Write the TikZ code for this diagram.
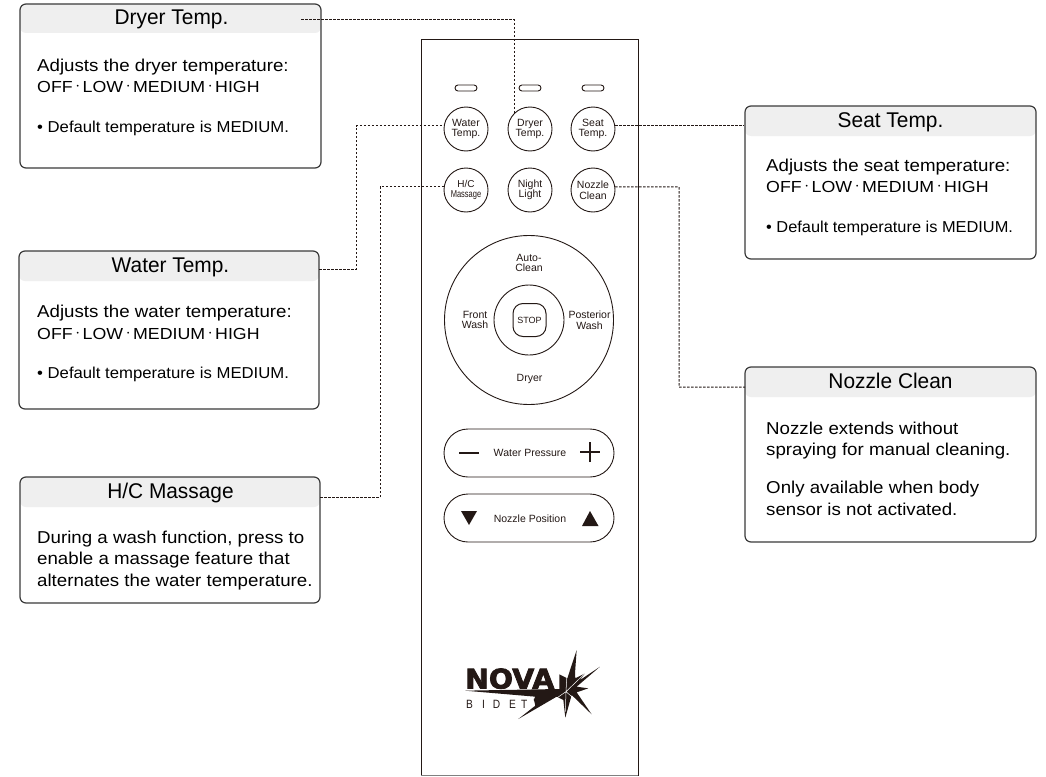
\documentclass[tikz,border=0pt]{standalone}
\usepackage{fontspec}
\setmainfont{Liberation Sans}
\newfontfamily\logofont[FakeBold=3,FakeStretch=1.05]{DejaVu Sans}
\newfontfamily\bidetfont[FakeStretch=0.85]{Liberation Sans}
\newfontfamily\titlefont[FakeStretch=0.98]{Liberation Sans}
\newfontfamily\bodyfont[FakeStretch=1.087]{Liberation Sans}
\newfontfamily\capsfont[FakeStretch=1.11]{Liberation Sans}
\newfontfamily\notefont[FakeStretch=1.057]{Liberation Sans}
\newfontfamily\seatnotefont[FakeStretch=1.036]{Liberation Sans}
\definecolor{ink}{HTML}{231815}
\definecolor{boxline}{HTML}{3A3A3A}
\definecolor{headfill}{HTML}{EFEFEF}
\newcommand{\fs}[1]{\fontsize{#1}{#1}\selectfont}
\newcommand{\lvsep}{\kern2.6pt\raisebox{2pt}{$\cdot$}\kern2.6pt}
\newcommand{\levels}{OFF\lvsep LOW\lvsep MEDIUM\lvsep HIGH}
\tikzset{
  x=1pt,y=-1pt,
  infobox/.style n args={3}{draw=boxline,line width=1.2pt,rounded corners=6pt,fill=white,inner sep=0pt,
    minimum width=#1,minimum height=#2,
    path picture={\fill[headfill] (path picture bounding box.north west) rectangle ([yshift=-#3]path picture bounding box.north east);}},
  titletext/.style={font=\titlefont\fs{21.3},text=black,inner sep=0pt,anchor=base},
  bodytext/.style={font=\bodyfont\fs{17.2},text=black,inner sep=0pt,anchor=base west},
  capstext/.style={font=\capsfont\fs{16},text=black,inner sep=0pt,anchor=base west},
  notetext/.style={font=\notefont\fs{15.8},text=black,inner sep=0pt,anchor=base west},
  leader/.style={draw=ink,line width=1pt,dash pattern=on 2.5pt off 1.5pt},
  roundbtn/.style={draw=ink,line width=0.9pt,circle,minimum size=44pt,inner sep=0pt,align=center,font=\fs{10.5}\linespread{1}\selectfont,text=ink},
  led/.style={draw=ink,line width=0.9pt,rounded corners=3pt,minimum width=22pt,minimum height=6pt,inner sep=0pt},
  pillbtn/.style={draw=ink,line width=0.9pt,rounded corners=24pt,minimum width=170pt,minimum height=48pt,inner sep=0pt},
  paneltext/.style={font=\fs{10.5},text=ink,inner sep=0pt,align=center},
}
\newcommand{\two}[2]{\baselineskip=11pt #1\\#2}
\begin{document}
\begin{tikzpicture}
\useasboundingbox (0,0) rectangle (1046,776);
% remote body
\node[draw=ink,line width=1pt,minimum width=217pt,minimum height=760pt,inner sep=0pt] (remote) at (529.5,420) {};
\fill[white] (415,775.5) rectangle (645,800);
\draw[gray,line width=0.6pt] (421,775.5) -- (638,775.5);
% indicator lights
\node[led] (led1) at (466,88) {};
\node[led] (led2) at (530,88) {};
\node[led] (led3) at (593,88) {};
% top buttons
\node[roundbtn] (waterbtn) at (466,129) {\two{Water}{Temp.}};
\node[roundbtn] (dryerbtn) at (530,129) {\two{Dryer}{Temp.}};
\node[roundbtn] (seatbtn) at (593,129) {\two{Seat}{Temp.}};
\node[roundbtn] (hcbtn) at (466,190) {\baselineskip=11pt {\fs{10}H/C}\\{\fs{10}\addfontfeatures{FakeStretch=0.75}Massage}};
\node[roundbtn] (nightbtn) at (530,190) {\two{Night}{Light}};
\node[roundbtn] (nozzlebtn) at (593,190) {\two{Nozzle}{Clean}};
% wash dial
\node[draw=ink,line width=0.9pt,circle,minimum size=169pt,inner sep=0pt] (dial) at (529,320) {};
\node[draw=ink,line width=0.9pt,circle,minimum size=70pt,inner sep=0pt] (dialinner) at (529,320) {};
\node[draw=ink,line width=1pt,rounded corners=10pt,minimum size=33pt,inner sep=0pt,font=\fs{9},text=ink] (stop) at (529.5,320) {STOP};
\node[paneltext] (autoclean) at (529,263) {\two{Auto-}{Clean}};
\node[paneltext] (frontwash) at (475,320) {\two{Front}{Wash}};
\node[paneltext] (posterior) at (589.5,320) {\two{Posterior}{Wash}};
\node[paneltext] (dryerlbl) at (529.5,379) {Dryer};
% pressure pill
\node[pillbtn] (pressure) at (529,453) {};
\node[paneltext] (pressurelbl) at (530,453) {Water Pressure};
\coordinate (minusa) at (459,453); \coordinate (minusb) at (479,453);
\draw[ink,line width=1.5pt] (minusa) -- (minusb);
\coordinate (plusc) at (590,452);
\draw[ink,line width=1.5pt] ([xshift=-10pt]plusc) -- ([xshift=10pt]plusc) ([yshift=-10pt]plusc) -- ([yshift=10pt]plusc);
% nozzle pill
\node[pillbtn] (nozzlepos) at (529,518) {};
\node[paneltext] (nozzlelbl) at (530,519) {Nozzle Position};
\fill[ink] (461,511) -- (477,511) -- (469,525) -- cycle;
\fill[ink] (582,526) -- (598.5,526) -- (590,511) -- cycle;
% logo
\begin{scope}[shift={(460,645)},x=0.3333pt,y=-0.3333pt]
\fill[ink] (15,137) -- (298,132) -- (298,88) -- (322,100) -- (350,15) -- (345,85) -- (346,100) -- (375,85) -- (360,105) -- (420,65) -- (350,125) -- (385,130) -- (350,142) -- (395,208) -- (335,150) -- (316,218) -- (310,165) -- (290,155) -- (175,222) -- (226,182) -- (222,165) -- (225,155) -- cycle;
\draw[white,line width=0.5pt] (318,140) -- (375,85) (318,140) -- (238,195) (318,140) -- (322,70) (318,140) -- (355,172) (318,140) -- (316,200);
\end{scope}
\node[inner sep=0pt,anchor=base west,font=\logofont\bfseries\fs{27},text=ink] (nova) at (465,688.5) {NOVA};
\node[inner sep=0pt,anchor=base west,font=\bidetfont\fs{12},text=ink] (bidet) at (466,708.5) {B\hspace{9pt}I\hspace{8pt}D\hspace{9pt}E\hspace{5pt}T};
\node[inner sep=0pt,font=\fs{4},text=ink] (regmark) at (535,700) {®};
% callouts
\node[infobox={301pt}{164pt}{29pt}] (dryerbox) at (170.5,86) {};
\node[titletext] (dryertitle) at (171.5,25) {Dryer Temp.};
\node[bodytext] at (37,71.3) {Adjusts the dryer temperature:};
\node[capstext] at (37,92.7) {\levels};
\node[notetext] at (37,132.7) {• Default temperature is MEDIUM.};
\node[infobox={300pt}{158pt}{30pt}] (waterbox) at (169,330) {};
\node[titletext] at (170.5,272) {Water Temp.};
\node[bodytext] at (37,317.3) {Adjusts the water temperature:};
\node[capstext] at (37,339) {\levels};
\node[notetext] at (37,378.7) {• Default temperature is MEDIUM.};
\node[infobox={300pt}{126pt}{30pt}] (hcbox) at (170,540) {};
\node[titletext] at (170.5,498.5) {H/C Massage};
\node[bodytext] at (37,543) {During a wash function, press to};
\node[bodytext] at (37,564.5) {enable a massage feature that};
\node[bodytext] at (37,586) {alternates the water temperature.};
\node[infobox={291pt}{153pt}{30pt}] (seatbox) at (890.5,182.5) {};
\node[titletext] at (890.5,127) {Seat Temp.};
\node[bodytext] at (766,171) {Adjusts the seat temperature:};
\node[capstext] at (766,192.7) {\levels};
\node[notetext,font=\seatnotefont\fs{15.8}] at (766,232) {• Default temperature is MEDIUM.};
\node[infobox={291pt}{175pt}{30pt}] (nozzlebox) at (890.5,454.5) {};
\node[titletext] at (890.5,388) {Nozzle Clean};
\node[bodytext] at (766,434) {Nozzle extends without};
\node[bodytext] at (766,455) {spraying for manual cleaning.};
\node[bodytext] at (766,493) {Only available when body};
\node[bodytext] at (766,515) {sensor is not activated.};
% connectors
\coordinate (dryerout) at (301,20);
\coordinate (wateroutY) at (319,269);
\coordinate (hcoutY) at (320,497);
\coordinate (nozzleinY) at (745,387);
\draw[leader] (dryerout) -| (dryerbtn.135);
\draw[leader] (wateroutY) -- (356,269) |- (waterbtn.172);
\draw[leader] (hcoutY) -- (380,497) |- (hcbtn.172);
\draw[leader] (seatbtn.10) -- (seatbtn.10 -| seatbox.west);
\draw[leader] (nozzlebtn.8) -- (679,187) |- (nozzleinY);
\end{tikzpicture}
\end{document}
